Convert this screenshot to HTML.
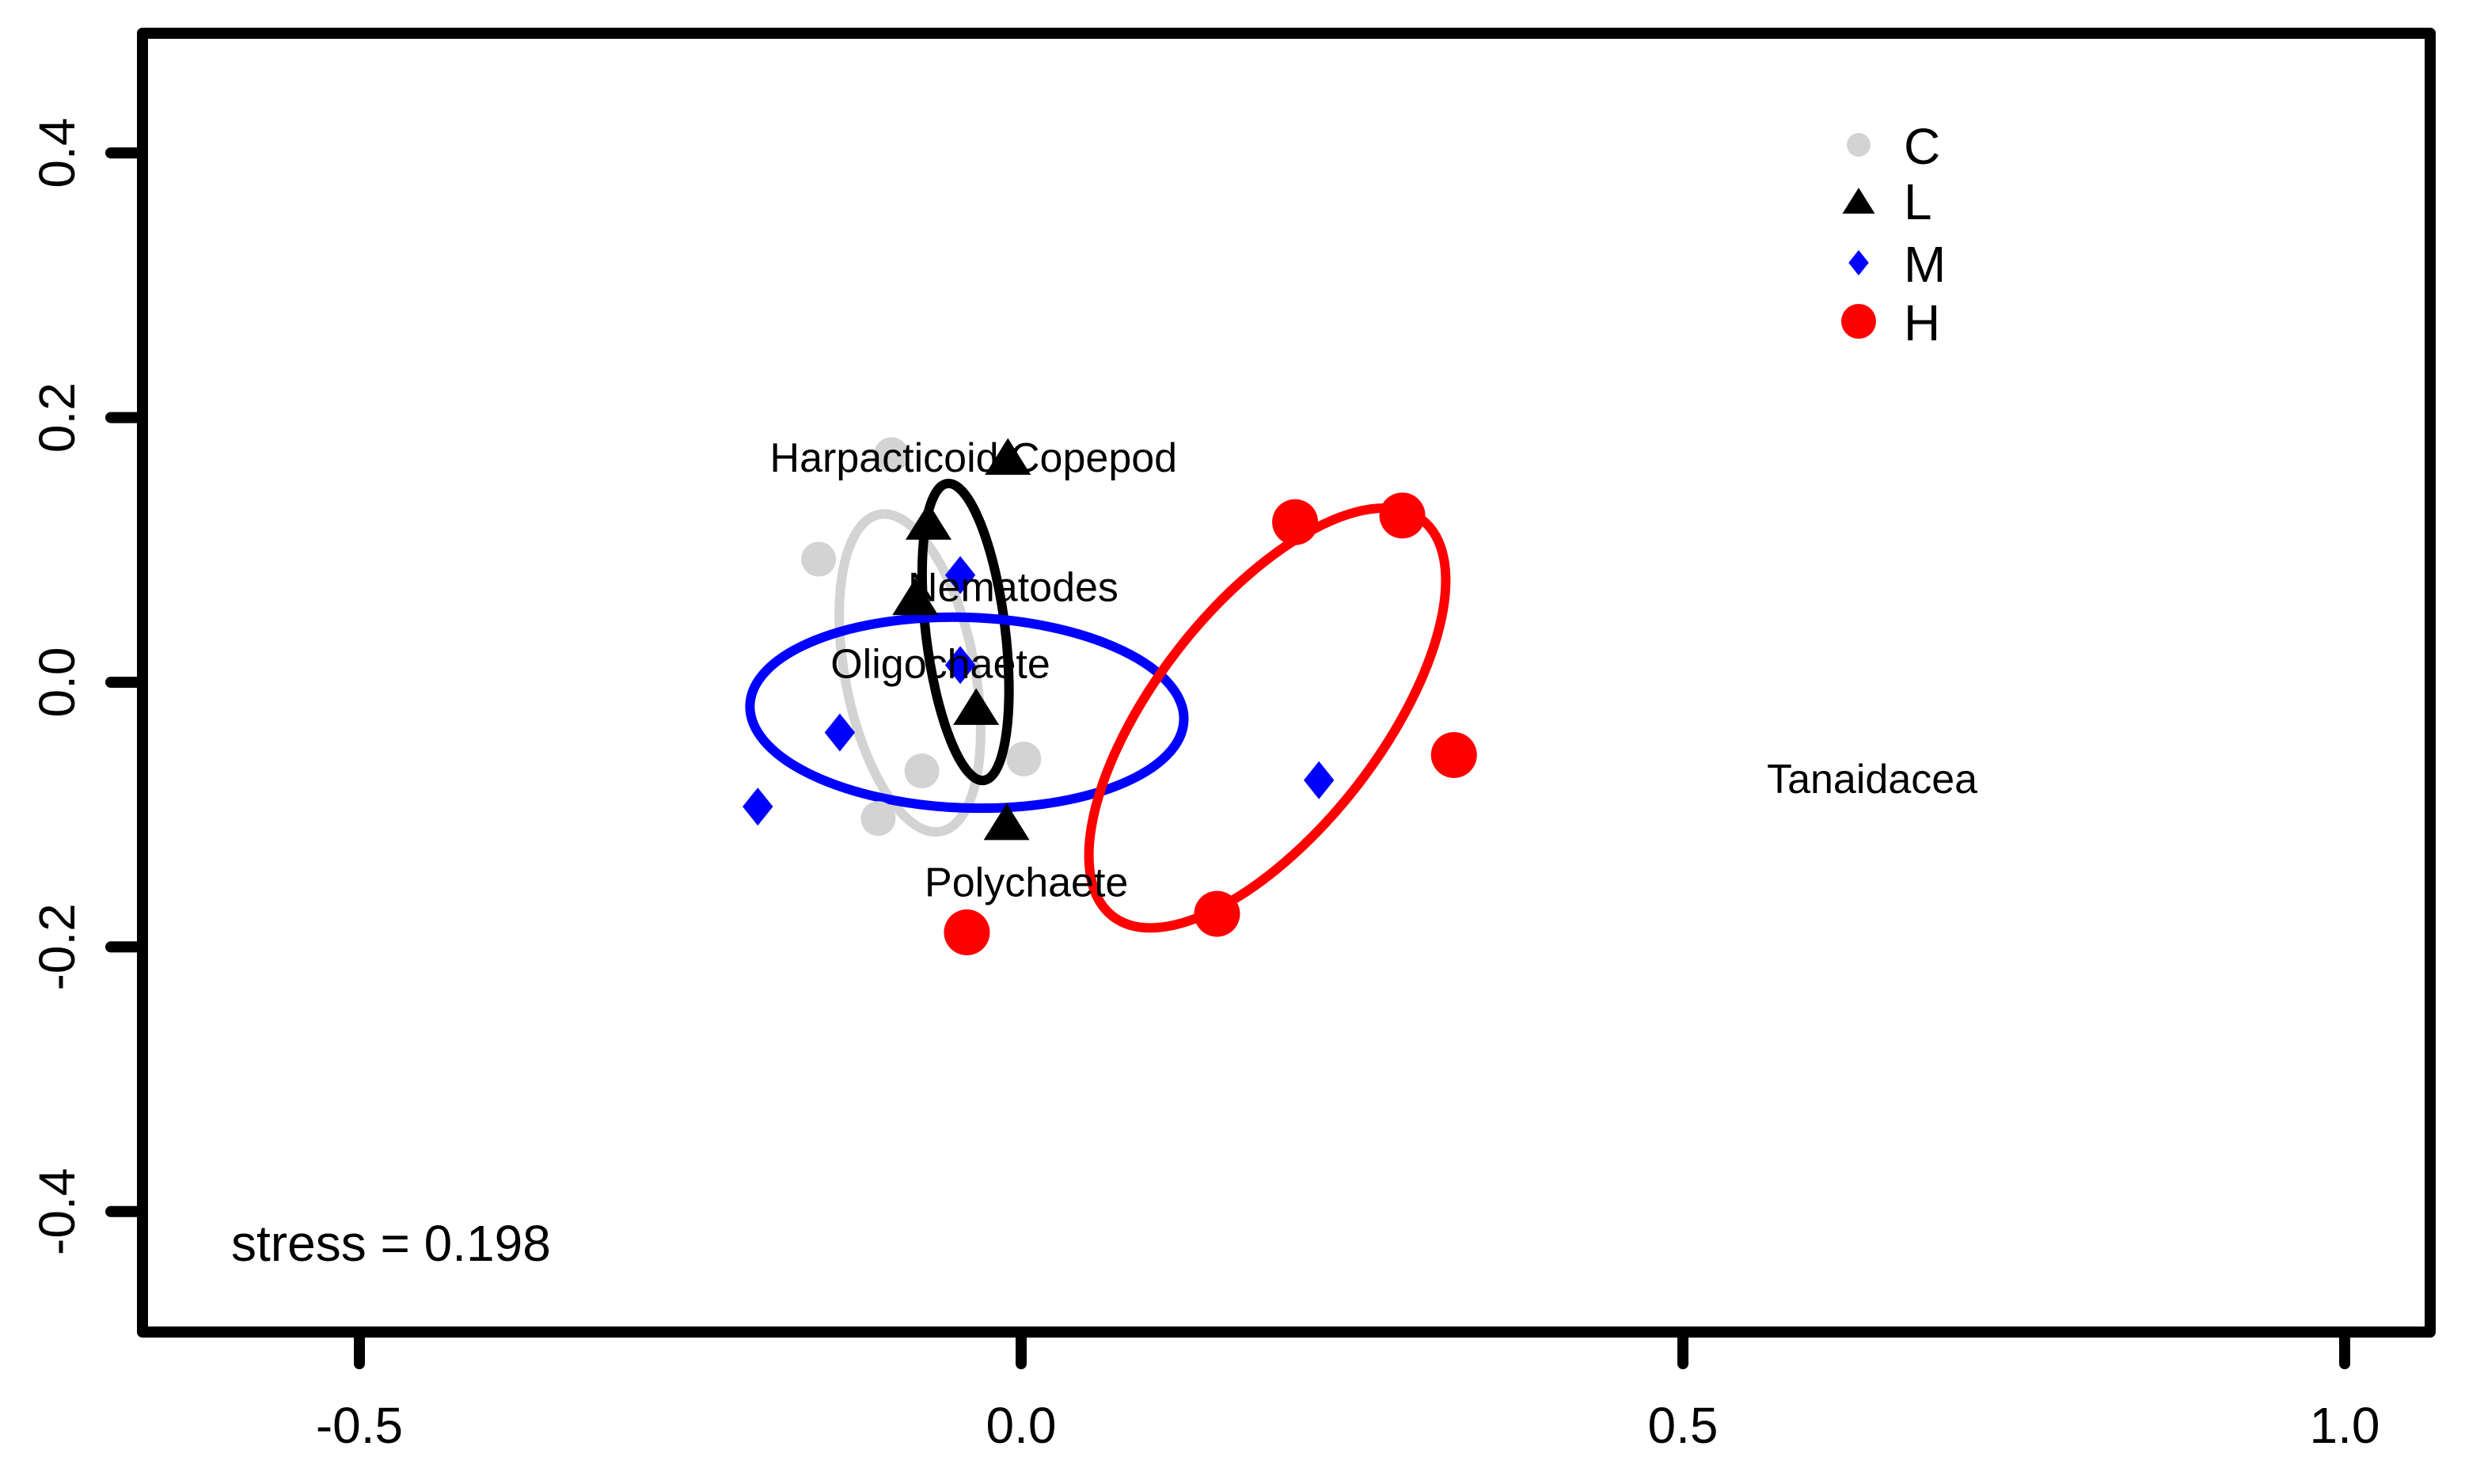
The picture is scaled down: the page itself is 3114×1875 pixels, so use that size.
<!DOCTYPE html>
<html><head><meta charset="utf-8"><style>
html,body{margin:0;padding:0;background:#fff}
svg{display:block;font-family:"Liberation Sans",Arial,sans-serif}
</style></head><body>
<svg id="chart" width="3114" height="1875" viewBox="0 0 3114 1875"></svg>
<script>
const xTicks=[-0.5,0.0,0.5,1.0];
const xTickLabels=["-0.5","0.0","0.5","1.0"];
const yTicks=[-0.4,-0.2,0.0,0.2,0.4];
const yTickLabels=["-0.4","-0.2","0.0","0.2","0.4"];
const cX=[-0.098,-0.153,-0.075,-0.108,0.002];
const cY=[0.172,0.093,-0.067,-0.103,-0.058];
const lX=[-0.010,-0.070,-0.080,-0.034,-0.011];
const lY=[0.166,0.117,0.060,-0.023,-0.110];
const mX=[-0.046,-0.046,-0.137,-0.199,0.225];
const mY=[0.081,0.013,-0.038,-0.094,-0.074];
const hX=[0.207,0.288,0.327,0.148,-0.041];
const hY=[0.121,0.126,-0.055,-0.175,-0.189];
const ellGroups=["C","L","M","H"];
const ellCx=[-0.084,-0.042,-0.041,0.186];
const ellCy=[0.007,0.038,-0.023,-0.027];
const ellRx=[0.049,0.030,0.164,0.19];
const ellRy=[0.122,0.113,0.072,0.085];
const ellRot=[-11,-7,2,-52];
const speciesNames=["Harpacticoid Copepod","Nematodes","Oligochaete","Polychaete","Tanaidacea"];
const speciesX=[-0.036,-0.006,-0.061,0.004,0.643];
const speciesY=[0.170,0.072,0.014,-0.151,-0.073];
const legendLabels=["C","L","M","H"];

const NS="http://www.w3.org/2000/svg";
const svg=document.getElementById('chart');
const X0=1290,Y0=862,S=1672;
function sx(v){return X0+v*S;}
function sy(v){return Y0-v*S;}
function mk(tag,attrs,parent){const e=document.createElementNS(NS,tag);for(const k in attrs)e.setAttribute(k,attrs[k]);(parent||svg).appendChild(e);return e;}
const colors={C:"#d3d3d3",L:"#000000",M:"#0000ff",H:"#ff0000"};

for(let i=0;i<ellGroups.length;i++){
  const e=mk('ellipse',{cx:sx(ellCx[i]),cy:sy(ellCy[i]),rx:ellRx[i]*S,ry:ellRy[i]*S,fill:'none',stroke:colors[ellGroups[i]],'stroke-width':12,transform:`rotate(${ellRot[i]} ${sx(ellCx[i])} ${sy(ellCy[i])})`});
  
  
}
function circle(x,y,r,fill,name){const e=mk('circle',{cx:x,cy:y,r:r,fill:fill});}
function tri(x,y,w,name){const h=w*0.8;const e=mk('polygon',{points:`${x-w/2},${y+h/3} ${x+w/2},${y+h/3} ${x},${y-2*h/3}`,fill:'#000'});}
function dia(x,y,r,name){const e=mk('polygon',{points:`${x},${y-r} ${x+r*0.8},${y} ${x},${y+r} ${x-r*0.8},${y}`,fill:'#0000ff'});}

for(let i=0;i<cX.length;i++)circle(sx(cX[i]),sy(cY[i]),22,colors.C,'point-c');
for(let i=0;i<lX.length;i++)tri(sx(lX[i]),sy(lY[i]),58,'point-l');
for(let i=0;i<mX.length;i++)dia(sx(mX[i]),sy(mY[i]),24,'point-m');
for(let i=0;i<hX.length;i++)circle(sx(hX[i]),sy(hY[i]),29,colors.H,'point-h');

for(let i=0;i<speciesNames.length;i++){
  const t=mk('text',{x:sx(speciesX[i]),y:sy(speciesY[i])+18,'text-anchor':'middle','font-size':52,fill:'#000'});
  t.textContent=speciesNames[i];
  
  
}

const box=mk('rect',{x:180,y:42,width:2890,height:1641,fill:'none',stroke:'#000','stroke-width':14,'stroke-linejoin':'round'});



for(let i=0;i<xTicks.length;i++){
  const x=sx(xTicks[i]);
  const l=mk('line',{x1:x,y1:1683,x2:x,y2:1723,stroke:'#000','stroke-width':14,'stroke-linecap':'round'});
  
  
  const t=mk('text',{x:x,y:1823,'text-anchor':'middle','font-size':64});
  t.textContent=xTickLabels[i];
  
  
}
for(let i=0;i<yTicks.length;i++){
  const y=sy(yTicks[i]);
  const l=mk('line',{x1:180,y1:y,x2:140,y2:y,stroke:'#000','stroke-width':14,'stroke-linecap':'round'});
  
  
  const t=mk('text',{x:94,y:y,'text-anchor':'middle','font-size':64,transform:`rotate(-90 94 ${y})`});
  t.textContent=yTickLabels[i];
  
  
}

const legY=[183,253,332,406];
circle(2348,legY[0],15,colors.C,'legend-symbol-c');
tri(2348,legY[1]+6,41,'legend-symbol-l');
dia(2348,legY[2],16,'legend-symbol-m');
circle(2348,legY[3],22,colors.H,'legend-symbol-h');
for(let i=0;i<legendLabels.length;i++){
  const t=mk('text',{x:2405,y:legY[i]+24,'font-size':64});
  t.textContent=legendLabels[i];
  
  
}
const st=mk('text',{x:292,y:1593,'font-size':64});
st.textContent="stress = 0.198";


</script>
</body></html>
